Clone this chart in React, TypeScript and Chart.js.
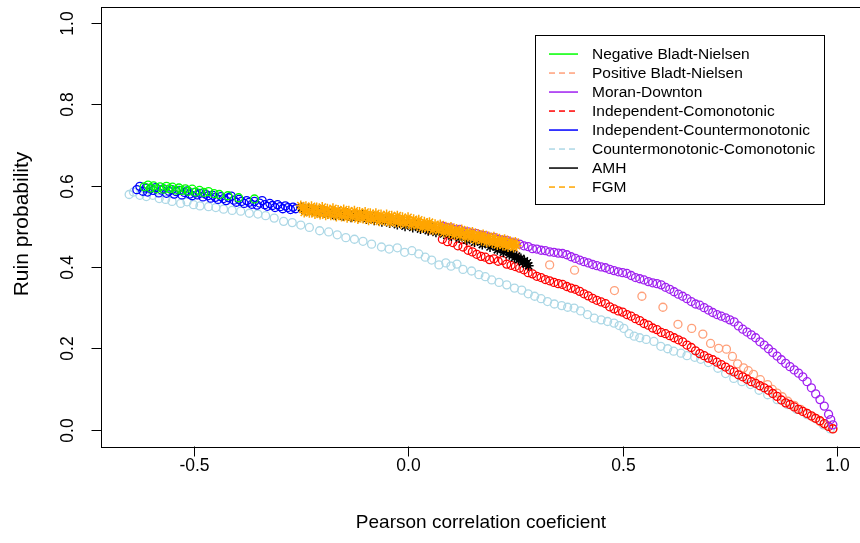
import React, { useEffect, useRef } from "react";
import { Chart, registerables } from "chart.js";
Chart.register(...registerables);

type Pt = [number, number];

const seriesNames = [
  "Negative Bladt-Nielsen",
  "Positive Bladt-Nielsen",
  "Moran-Downton",
  "Independent-Comonotonic",
  "Independent-Countermonotonic",
  "Countermonotonic-Comonotonic",
  "AMH",
  "FGM",
];
const seriesColors = ["#00FF00", "#FFA07A", "#A020F0", "#FF0000", "#0000FF", "#ADD8E6", "#000000", "#FFA500"];
const seriesDashed = [false, true, false, true, false, true, false, true];
const seriesMarkers = ["circle", "circle", "circle", "circle", "circle", "circle", "star", "star"];
const seriesDrawOrder = [4, 7, 3, 5, 6, 8, 2, 1];

const xTicks = [-0.5, 0, 0.5, 1];
const yTicks = [0, 0.2, 0.4, 0.6, 0.8, 1];
const xTitle = "Pearson correlation coeficient";
const yTitle = "Ruin probability";

const negBladtNielsen: Pt[] = [
  [-0.615, 0.597], [-0.606, 0.601], [-0.6, 0.594], [-0.593, 0.599], [-0.586, 0.592], [-0.578, 0.597],
  [-0.57, 0.591], [-0.563, 0.598], [-0.556, 0.592], [-0.549, 0.596], [-0.541, 0.589], [-0.534, 0.594],
  [-0.527, 0.588], [-0.519, 0.592], [-0.512, 0.586], [-0.503, 0.591], [-0.495, 0.584], [-0.486, 0.588],
  [-0.476, 0.583], [-0.465, 0.585], [-0.452, 0.58], [-0.44, 0.578], [-0.42, 0.575], [-0.395, 0.57],
  [-0.358, 0.567],
];

const posBladtNielsen: Pt[] = [
  [0.05, 0.49], [0.15, 0.462], [0.25, 0.43], [0.33, 0.405], [0.388, 0.392], [0.481, 0.342], [0.545, 0.328],
  [0.594, 0.301], [0.629, 0.259], [0.661, 0.249], [0.687, 0.235], [0.705, 0.212], [0.724, 0.2], [0.742, 0.198],
  [0.756, 0.18], [0.768, 0.162], [0.782, 0.152], [0.793, 0.145], [0.805, 0.136], [0.821, 0.123], [0.838, 0.111],
  [0.849, 0.099], [0.86, 0.09], [0.872, 0.081], [0.885, 0.07], [0.9, 0.06], [0.915, 0.05], [0.93, 0.04],
  [0.945, 0.03], [0.96, 0.02], [0.975, 0.011], [0.99, 0.003],
];

const moranDownton: Pt[] = [
  [0.08, 0.5], [0.09, 0.497], [0.1, 0.496], [0.11, 0.491], [0.12, 0.492], [0.13, 0.487], [0.14, 0.486],
  [0.15, 0.483], [0.16, 0.482], [0.17, 0.478], [0.18, 0.477], [0.19, 0.473], [0.2, 0.472], [0.21, 0.468],
  [0.22, 0.466], [0.23, 0.465], [0.24, 0.461], [0.25, 0.459], [0.26, 0.456], [0.27, 0.452], [0.28, 0.45],
  [0.29, 0.445], [0.3, 0.444], [0.31, 0.441], [0.32, 0.44], [0.33, 0.437], [0.34, 0.436], [0.35, 0.434],
  [0.36, 0.433], [0.37, 0.43], [0.38, 0.425], [0.39, 0.421], [0.4, 0.417], [0.41, 0.413], [0.42, 0.41],
  [0.43, 0.406], [0.44, 0.403], [0.45, 0.4], [0.46, 0.398], [0.47, 0.394], [0.48, 0.391], [0.49, 0.388],
  [0.5, 0.386], [0.51, 0.384], [0.52, 0.379], [0.53, 0.374], [0.54, 0.371], [0.55, 0.368], [0.56, 0.364],
  [0.57, 0.361], [0.58, 0.359], [0.59, 0.356], [0.6, 0.35], [0.61, 0.345], [0.62, 0.339], [0.63, 0.333],
  [0.64, 0.328], [0.65, 0.322], [0.66, 0.315], [0.67, 0.309], [0.68, 0.306], [0.69, 0.3], [0.7, 0.294],
  [0.71, 0.288], [0.72, 0.283], [0.73, 0.279], [0.74, 0.275], [0.75, 0.27], [0.76, 0.265], [0.77, 0.255],
  [0.78, 0.247], [0.79, 0.24], [0.8, 0.233], [0.81, 0.226], [0.82, 0.216], [0.83, 0.208], [0.84, 0.199],
  [0.85, 0.19], [0.86, 0.181], [0.87, 0.172], [0.88, 0.163], [0.89, 0.155], [0.9, 0.147], [0.91, 0.139],
  [0.92, 0.13], [0.93, 0.118], [0.94, 0.103], [0.95, 0.088], [0.96, 0.074], [0.97, 0.058], [0.98, 0.038],
  [0.985, 0.025], [0.99, 0.012],
];

const indepComonotonic: Pt[] = [
  [0.08, 0.468], [0.092, 0.462], [0.104, 0.46], [0.116, 0.452], [0.128, 0.449], [0.14, 0.441], [0.15, 0.437],
  [0.16, 0.431], [0.17, 0.426], [0.18, 0.424], [0.19, 0.418], [0.2, 0.42], [0.21, 0.414], [0.22, 0.416],
  [0.23, 0.407], [0.24, 0.404], [0.25, 0.401], [0.26, 0.397], [0.27, 0.393], [0.28, 0.386], [0.29, 0.383],
  [0.3, 0.377], [0.31, 0.374], [0.32, 0.369], [0.33, 0.366], [0.34, 0.362], [0.35, 0.359], [0.36, 0.357],
  [0.37, 0.352], [0.38, 0.348], [0.39, 0.345], [0.4, 0.34], [0.41, 0.334], [0.42, 0.329], [0.43, 0.323],
  [0.44, 0.318], [0.45, 0.314], [0.46, 0.31], [0.47, 0.302], [0.48, 0.297], [0.49, 0.292], [0.5, 0.289],
  [0.51, 0.283], [0.52, 0.279], [0.53, 0.273], [0.54, 0.268], [0.55, 0.261], [0.56, 0.257], [0.57, 0.25],
  [0.58, 0.246], [0.59, 0.239], [0.6, 0.236], [0.61, 0.231], [0.62, 0.226], [0.63, 0.221], [0.64, 0.216],
  [0.65, 0.208], [0.66, 0.202], [0.67, 0.194], [0.68, 0.187], [0.69, 0.182], [0.7, 0.176], [0.71, 0.172],
  [0.72, 0.166], [0.73, 0.16], [0.74, 0.154], [0.75, 0.147], [0.76, 0.142], [0.77, 0.135], [0.78, 0.13],
  [0.79, 0.124], [0.8, 0.118], [0.81, 0.114], [0.82, 0.108], [0.83, 0.103], [0.84, 0.097], [0.85, 0.089],
  [0.86, 0.082], [0.87, 0.073], [0.88, 0.066], [0.89, 0.062], [0.9, 0.056], [0.91, 0.05], [0.92, 0.045],
  [0.93, 0.04], [0.94, 0.034], [0.95, 0.028], [0.96, 0.022], [0.97, 0.015], [0.98, 0.008], [0.99, 0.002],
];

const indepCountermonotonic: Pt[] = [
  [-0.632, 0.59], [-0.625, 0.598], [-0.618, 0.586], [-0.611, 0.594], [-0.607, 0.584], [-0.6, 0.592],
  [-0.594, 0.588], [-0.588, 0.595], [-0.581, 0.582], [-0.575, 0.589], [-0.57, 0.592], [-0.563, 0.581],
  [-0.557, 0.586], [-0.551, 0.59], [-0.545, 0.579], [-0.54, 0.585], [-0.533, 0.588], [-0.527, 0.577],
  [-0.521, 0.583], [-0.515, 0.587], [-0.509, 0.579], [-0.503, 0.575], [-0.497, 0.583], [-0.491, 0.577],
  [-0.485, 0.581], [-0.478, 0.572], [-0.472, 0.579], [-0.466, 0.575], [-0.46, 0.569], [-0.455, 0.576],
  [-0.449, 0.571], [-0.443, 0.566], [-0.436, 0.573], [-0.43, 0.568], [-0.424, 0.563], [-0.418, 0.57],
  [-0.412, 0.574], [-0.406, 0.564], [-0.4, 0.559], [-0.394, 0.566], [-0.388, 0.561], [-0.382, 0.556],
  [-0.376, 0.563], [-0.37, 0.559], [-0.364, 0.554], [-0.358, 0.561], [-0.352, 0.552], [-0.346, 0.557],
  [-0.34, 0.563], [-0.334, 0.553], [-0.328, 0.549], [-0.322, 0.556], [-0.316, 0.551], [-0.31, 0.546],
  [-0.304, 0.553], [-0.298, 0.548], [-0.292, 0.543], [-0.286, 0.55], [-0.28, 0.546], [-0.274, 0.541],
  [-0.268, 0.547], [-0.262, 0.543],
];

const counterComonotonic: Pt[] = [
  [-0.65, 0.578], [-0.64, 0.584], [-0.625, 0.576], [-0.61, 0.573], [-0.595, 0.576], [-0.58, 0.568],
  [-0.565, 0.566], [-0.55, 0.561], [-0.53, 0.556], [-0.515, 0.56], [-0.5, 0.553], [-0.485, 0.55],
  [-0.465, 0.548], [-0.448, 0.546], [-0.43, 0.542], [-0.41, 0.539], [-0.39, 0.537], [-0.37, 0.532],
  [-0.35, 0.53], [-0.332, 0.526], [-0.312, 0.52], [-0.29, 0.512], [-0.27, 0.509], [-0.25, 0.503],
  [-0.23, 0.497], [-0.206, 0.489], [-0.185, 0.486], [-0.165, 0.479], [-0.145, 0.472], [-0.125, 0.468],
  [-0.105, 0.463], [-0.085, 0.456], [-0.062, 0.449], [-0.044, 0.444], [-0.025, 0.447], [-0.008, 0.436],
  [0.009, 0.44], [0.025, 0.432], [0.04, 0.424], [0.055, 0.417], [0.072, 0.405], [0.088, 0.41], [0.1, 0.402],
  [0.114, 0.407], [0.128, 0.394], [0.148, 0.39], [0.165, 0.381], [0.18, 0.376], [0.195, 0.368], [0.212, 0.362],
  [0.23, 0.356], [0.248, 0.348], [0.265, 0.343], [0.28, 0.334], [0.295, 0.328], [0.31, 0.322], [0.325, 0.315],
  [0.341, 0.309], [0.358, 0.305], [0.372, 0.301], [0.387, 0.299], [0.402, 0.292], [0.418, 0.283], [0.434, 0.274],
  [0.45, 0.27], [0.465, 0.266], [0.48, 0.262], [0.492, 0.256], [0.503, 0.249], [0.515, 0.236], [0.527, 0.23],
  [0.54, 0.226], [0.555, 0.222], [0.573, 0.217], [0.589, 0.205], [0.605, 0.199], [0.619, 0.193], [0.636, 0.188],
  [0.65, 0.182], [0.668, 0.178], [0.682, 0.173], [0.7, 0.165], [0.722, 0.151], [0.74, 0.138], [0.759, 0.126],
  [0.778, 0.118], [0.798, 0.111], [0.818, 0.097], [0.838, 0.086], [0.86, 0.074], [0.884, 0.062], [0.906, 0.05],
  [0.93, 0.037], [0.95, 0.027], [0.968, 0.012], [0.984, 0.002],
];

const amh: Pt[] = [
  [-0.248, 0.546], [-0.24, 0.539], [-0.232, 0.544], [-0.223, 0.535], [-0.214, 0.541], [-0.205, 0.533],
  [-0.196, 0.539], [-0.187, 0.53], [-0.178, 0.537], [-0.169, 0.527], [-0.16, 0.534], [-0.151, 0.525],
  [-0.142, 0.532], [-0.133, 0.522], [-0.124, 0.528], [-0.115, 0.522], [-0.106, 0.528], [-0.097, 0.518],
  [-0.088, 0.525], [-0.079, 0.515], [-0.07, 0.521], [-0.061, 0.511], [-0.052, 0.518], [-0.043, 0.508],
  [-0.034, 0.514], [-0.025, 0.504], [-0.016, 0.511], [-0.007, 0.5], [0.002, 0.507], [0.011, 0.497],
  [0.02, 0.503], [0.029, 0.493], [0.038, 0.499], [0.047, 0.489], [0.056, 0.495], [0.065, 0.485],
  [0.074, 0.491], [0.083, 0.481], [0.092, 0.486], [0.101, 0.476], [0.11, 0.482], [0.119, 0.471],
  [0.128, 0.477], [0.137, 0.466], [0.146, 0.472], [0.155, 0.461], [0.164, 0.466], [0.173, 0.455],
  [0.182, 0.46], [0.191, 0.449], [0.2, 0.453], [0.208, 0.442], [0.215, 0.446], [0.222, 0.436],
  [0.229, 0.44], [0.236, 0.43], [0.242, 0.433], [0.248, 0.423], [0.253, 0.427], [0.258, 0.418],
  [0.263, 0.421], [0.267, 0.412], [0.271, 0.415], [0.275, 0.407], [0.278, 0.41], [0.281, 0.403],
];

const fgm: Pt[] = [
  [-0.25, 0.551], [-0.246, 0.543], [-0.242, 0.534], [-0.238, 0.549], [-0.234, 0.54], [-0.23, 0.533],
  [-0.225, 0.549], [-0.221, 0.541], [-0.217, 0.53], [-0.213, 0.546], [-0.209, 0.537], [-0.205, 0.529],
  [-0.2, 0.547], [-0.196, 0.538], [-0.192, 0.527], [-0.188, 0.543], [-0.184, 0.534], [-0.18, 0.527],
  [-0.175, 0.544], [-0.171, 0.535], [-0.167, 0.524], [-0.163, 0.54], [-0.159, 0.531], [-0.155, 0.524],
  [-0.15, 0.541], [-0.146, 0.532], [-0.142, 0.521], [-0.138, 0.538], [-0.134, 0.529], [-0.13, 0.522],
  [-0.125, 0.538], [-0.121, 0.528], [-0.117, 0.518], [-0.113, 0.535], [-0.109, 0.526], [-0.105, 0.519],
  [-0.1, 0.535], [-0.096, 0.525], [-0.092, 0.515], [-0.088, 0.532], [-0.084, 0.523], [-0.08, 0.516],
  [-0.075, 0.532], [-0.071, 0.522], [-0.067, 0.512], [-0.063, 0.529], [-0.059, 0.52], [-0.055, 0.513],
  [-0.05, 0.529], [-0.046, 0.519], [-0.042, 0.509], [-0.038, 0.526], [-0.034, 0.517], [-0.03, 0.51],
  [-0.025, 0.526], [-0.021, 0.516], [-0.017, 0.506], [-0.013, 0.522], [-0.009, 0.513], [-0.005, 0.506],
  [0.0, 0.522], [0.004, 0.511], [0.008, 0.502], [0.013, 0.517], [0.017, 0.508], [0.021, 0.501],
  [0.025, 0.516], [0.029, 0.505], [0.033, 0.496], [0.038, 0.511], [0.042, 0.502], [0.046, 0.495],
  [0.05, 0.51], [0.054, 0.499], [0.058, 0.49], [0.063, 0.505], [0.067, 0.496], [0.071, 0.489],
  [0.075, 0.504], [0.079, 0.493], [0.083, 0.484], [0.088, 0.499], [0.092, 0.49], [0.096, 0.483],
  [0.1, 0.498], [0.104, 0.487], [0.108, 0.478], [0.113, 0.493], [0.117, 0.484], [0.121, 0.477],
  [0.125, 0.492], [0.129, 0.481], [0.133, 0.472], [0.138, 0.487], [0.142, 0.478], [0.146, 0.471],
  [0.15, 0.486], [0.154, 0.475], [0.158, 0.466], [0.163, 0.481], [0.167, 0.472], [0.171, 0.465],
  [0.175, 0.48], [0.179, 0.469], [0.183, 0.46], [0.188, 0.475], [0.192, 0.466], [0.196, 0.459],
  [0.2, 0.474], [0.204, 0.463], [0.208, 0.454], [0.213, 0.469], [0.217, 0.46], [0.221, 0.453],
  [0.225, 0.468], [0.229, 0.458], [0.233, 0.449], [0.238, 0.463], [0.242, 0.455], [0.246, 0.448],
  [0.25, 0.461], [0.253, 0.452],
];

const seriesData: Pt[][] = [
  negBladtNielsen, posBladtNielsen, moranDownton, indepComonotonic,
  indepCountermonotonic, counterComonotonic, amh, fgm,
];

const FONT = '"Liberation Sans", Arial, sans-serif';

const framePlugin = {
  id: "rframe",
  afterDraw(chart: any) {
    const ctx: CanvasRenderingContext2D = chart.ctx;
    const { left, top, right, bottom } = chart.chartArea;
    const xs = chart.scales.x;
    const ys = chart.scales.y;
    ctx.save();
    ctx.strokeStyle = "#000";
    ctx.lineWidth = 1;
    ctx.strokeRect(Math.round(left) + 0.5, Math.round(top) + 0.5, Math.round(right - left), Math.round(bottom - top));

    ctx.fillStyle = "#000";
    ctx.font = `17.5px ${FONT}`;
    ctx.textAlign = "center";
    ctx.textBaseline = "middle";
    for (const v of xTicks) {
      const px = Math.round(xs.getPixelForValue(v)) + 0.5;
      ctx.beginPath();
      ctx.moveTo(px, Math.round(bottom) + 0.5);
      ctx.lineTo(px, Math.round(bottom) + 10.5);
      ctx.stroke();
      ctx.fillText(v.toFixed(1), px, 466);
    }
    for (const v of yTicks) {
      const py = Math.round(ys.getPixelForValue(v)) + 0.5;
      ctx.beginPath();
      ctx.moveTo(Math.round(left) + 0.5, py);
      ctx.lineTo(Math.round(left) - 9.5, py);
      ctx.stroke();
      ctx.save();
      ctx.translate(68, py);
      ctx.rotate(-Math.PI / 2);
      ctx.fillText(v.toFixed(1), 0, 0);
      ctx.restore();
    }
    ctx.font = `19px ${FONT}`;
    ctx.fillText(xTitle, (left + right) / 2, 523);
    ctx.font = `21px ${FONT}`;
    ctx.save();
    ctx.translate(22, 224);
    ctx.rotate(-Math.PI / 2);
    ctx.fillText(yTitle, 0, 0);
    ctx.restore();

    // legend
    const lx = 535.5, ly = 35.5, lw = 289, lh = 169;
    ctx.fillStyle = "#fff";
    ctx.fillRect(lx, ly, lw, lh);
    ctx.strokeStyle = "#000";
    ctx.lineWidth = 1;
    ctx.strokeRect(lx, ly, lw, lh);
    ctx.font = `15.5px ${FONT}`;
    ctx.textAlign = "left";
    seriesNames.forEach((name, i) => {
      const cy = 54 + i * 19;
      ctx.fillStyle = seriesColors[i];
      if (seriesDashed[i]) {
        for (let k = 0; k < 3; k++) ctx.fillRect(549 + k * 10, cy - 0.7, 6, 1.5);
      } else {
        ctx.fillRect(549, cy - 0.7, 29, 1.5);
      }
      ctx.fillStyle = "#000";
      ctx.fillText(name, 592, cy + 1);
    });
    ctx.restore();
  },
};

export default function App() {
  const ref = useRef<HTMLCanvasElement | null>(null);
  useEffect(() => {
    if (!ref.current) return;
    const chart = new Chart(ref.current, {
      type: "scatter",
      data: {
        datasets: seriesData.map((pts, i) => {
          const star = seriesMarkers[i] === "star";
          return {
            label: seriesNames[i],
            data: pts.map(([x, y]) => ({ x, y })),
            borderColor: seriesColors[i],
            backgroundColor: "rgba(0,0,0,0)",
            pointStyle: seriesMarkers[i] as any,
            pointRadius: star ? 5 : 4,
            pointBorderWidth: star ? 1.5 : 1.3,
            borderWidth: star ? 1.5 : 1.3,
            showLine: false,
            order: seriesDrawOrder[i],
          };
        }),
      },
      options: {
        animation: false,
        responsive: false,
        devicePixelRatio: 1,
        events: [],
        layout: { padding: { left: 0, top: 6, right: 9, bottom: 0 } },
        plugins: { legend: { display: false }, tooltip: { enabled: false } },
        scales: {
          x: {
            type: "linear",
            min: -0.7156,
            max: 1.0556,
            afterFit: (s: any) => { s.height = 97; },
            ticks: { display: false },
            grid: { display: false },
            border: { display: false },
          },
          y: {
            type: "linear",
            min: -0.04,
            max: 1.04,
            afterFit: (s: any) => { s.width = 101; },
            ticks: { display: false },
            grid: { display: false },
            border: { display: false },
          },
        },
      },
      plugins: [framePlugin],
    });
    return () => chart.destroy();
  }, []);
  return (
    <div style={{ position: "fixed", left: 0, top: 0, width: 860, height: 543, overflow: "hidden", background: "#fff" }}>
      <canvas ref={ref} width={870} height={543} style={{ display: "block" }} />
    </div>
  );
}
